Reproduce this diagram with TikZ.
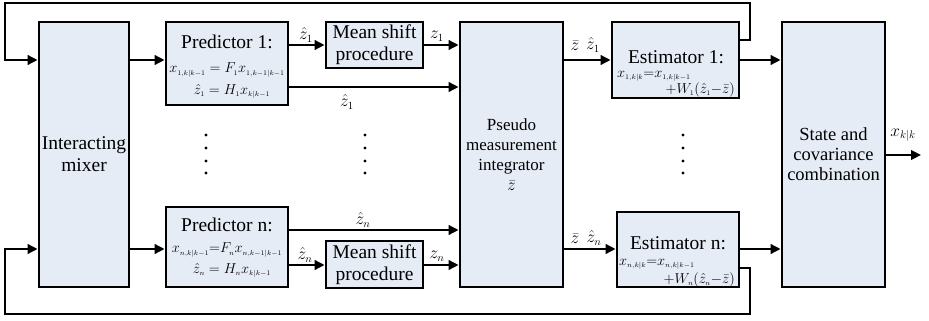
\documentclass[tikz,border=0pt]{standalone}
\usepackage{fontspec}
\setmainfont{Liberation Serif}
\usetikzlibrary{arrows.meta}
\definecolor{boxfill}{RGB}{230,236,246}
\newcommand\sbs[1]{_{\scriptscriptstyle #1}}
\begin{document}
\begin{tikzpicture}[x=1pt,y=-1pt,
  box/.style={draw, line width=2.8pt, fill=boxfill, inner sep=0pt, align=center},
  conn/.style={line width=2.4pt},
  arr/.style={conn, -{Triangle[length=10pt,width=9.5pt]}},
  big/.style={font=\fontsize{19.5}{22}\selectfont},
  mid/.style={font=\fontsize{17}{20}\selectfont},
  ttl/.style={font=\fontsize{19.5}{20}\selectfont, inner sep=0pt},
  lbl/.style={font=\fontsize{16}{16}\selectfont, inner sep=0pt},
  eq/.style={font=\fontsize{15}{15}\selectfont, inner sep=0pt},
  dotm/.style={fill, circle, inner sep=0pt, minimum size=3.4pt}]
\useasboundingbox (0,0) rectangle (929,321);
% boxes
\node[box, big, minimum width=90pt, minimum height=265pt] (mix) at (84,154.5) {Interacting\\mixer};
\node[box, minimum width=122pt, minimum height=83pt] (pred1) at (227,63.5) {};
\node[box, minimum width=122pt, minimum height=80pt] (predn) at (227,247) {};
\node[box, big, minimum width=97pt, minimum height=46pt] (ms1) at (374.5,45) {Mean shift\\procedure};
\node[box, big, minimum width=97pt, minimum height=47pt] (msn) at (374.5,264.5) {Mean shift\\procedure};
\node[box, mid, minimum width=103pt, minimum height=265pt] (pseudo) at (511.5,154.5) {Pseudo\\measurement\\integrator\\$\bar{z}$};
\node[box, minimum width=127pt, minimum height=76pt] (est1) at (675.5,60) {};
\node[box, minimum width=122pt, minimum height=75pt] (estn) at (678,249.5) {};
\node[box, font=\fontsize{18.5}{20}\selectfont, minimum width=103pt, minimum height=265pt] (state) at (833.5,154.5) {State and\\covariance\\combination};
% box contents
\node[ttl] (p1t) at (227,42) {Predictor 1:};
\node[eq] (p1a) at (227,70) {$x\sbs{1,k|k-1}=F\sbs{1}x\sbs{1,k-1|k-1}$};
\node[eq] (p1b) at (232,91) {$\hat{z}\sbs{1}=H\sbs{1}x\sbs{k|k-1}$};
\node[ttl] (pnt) at (227,225) {Predictor n:};
\node[eq] (pna) at (227,250) {$x\sbs{n,k|k-1}{=}F\sbs{n}x\sbs{n,k-1|k-1}$};
\node[eq] (pnb) at (232,270) {$\hat{z}\sbs{n}=H\sbs{n}x\sbs{k|k-1}$};
\node[ttl] (e1t) at (676,57) {Estimator 1:};
\node[eq, anchor=west] (e1a) at (617,76) {$x\sbs{1,k|k}{=}x\sbs{1,k|k-1}$};
\node[eq, anchor=east] (e1b) at (735,90) {$+W\sbs{1}(\hat{z}\sbs{1}{-}\bar{z})$};
\node[ttl] (ent) at (678,243) {Estimator n:};
\node[eq, anchor=west] (ena) at (619,264) {$x\sbs{n,k|k}{=}x\sbs{n,k|k-1}$};
\node[eq, anchor=east] (enb) at (735,280) {$+W\sbs{n}(\hat{z}\sbs{n}{-}\bar{z})$};
% rows
\coordinate (r1) at (0,60);
\coordinate (rz1) at (0,45);
\coordinate (rh1) at (0,87);
\coordinate (rhn) at (0,230);
\coordinate (rzn) at (0,265);
\coordinate (rn) at (0,249);
\coordinate (rout) at (0,155);
\coordinate (f1) at (0,40);
\coordinate (fn) at (0,268);
\coordinate (fbTR) at (750,3);
\coordinate (fbTL) at (5,3);
\coordinate (fbBR) at (750,314);
\coordinate (fbBL) at (5,314);
\coordinate (outend) at (921,155);
% connectors
\draw[arr] (mix.east |- r1) -- (pred1.west |- r1);
\draw[arr] (mix.east |- rn) -- (predn.west |- rn);
\draw[arr] (pred1.east |- rz1) -- (ms1.west |- rz1);
\draw[arr] (ms1.east |- rz1) -- (pseudo.west |- rz1);
\draw[arr] (pred1.east |- rh1) -- (pseudo.west |- rh1);
\draw[arr] (predn.east |- rhn) -- (pseudo.west |- rhn);
\draw[arr] (predn.east |- rzn) -- (msn.west |- rzn);
\draw[arr] (msn.east |- rzn) -- (pseudo.west |- rzn);
\draw[arr] (pseudo.east |- r1) -- (est1.west |- r1);
\draw[arr] (pseudo.east |- rn) -- (estn.west |- rn);
\draw[arr] (est1.east |- r1) -- (state.west |- r1);
\draw[arr] (estn.east |- rn) -- (state.west |- rn);
\draw[arr] (state.east |- rout) -- (outend);
\draw[arr] (est1.east |- f1) -| (fbTR) -- (fbTL) |- (mix.west |- r1);
\draw[arr] (estn.east |- fn) -| (fbBR) -- (fbBL) |- (mix.west |- rn);
% labels
\node[lbl] (l1) at (306,35) {$\hat{z}_1$};
\node[lbl] (l2) at (437,36) {$z_1$};
\node[lbl] (l3) at (347,102) {$\hat{z}_1$};
\node[lbl] (l4) at (363,220) {$\hat{z}_n$};
\node[lbl] (l5) at (305,255) {$\hat{z}_n$};
\node[lbl] (l6) at (437,256) {$z_n$};
\node[lbl] (l7a) at (575,46) {$\bar{z}$};
\node[lbl] (l7b) at (593,45) {$\hat{z}_1$};
\node[lbl] (l8a) at (575,239) {$\bar{z}$};
\node[lbl] (l8b) at (594,238) {$\hat{z}_n$};
\node[lbl] (l9) at (903,135) {$x_{k|k}$};
% dots
\foreach \x in {206,365,683}
  \foreach \y in {135,148,161,173}
    \node[dotm] at (\x,\y) {};
\end{tikzpicture}
\end{document}
